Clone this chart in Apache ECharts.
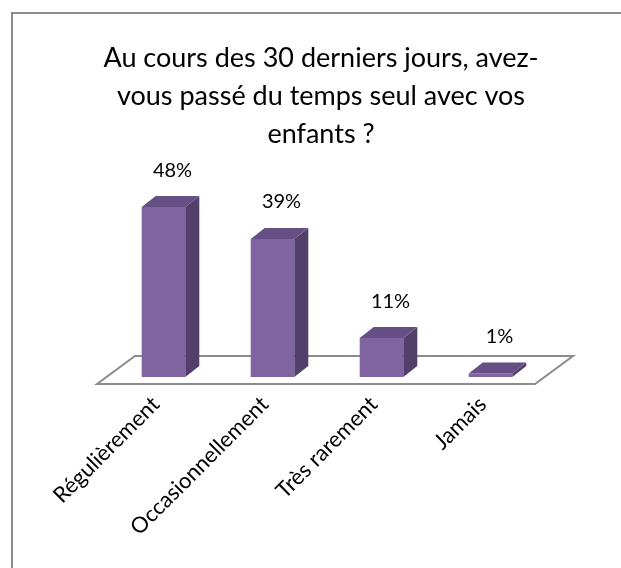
<!DOCTYPE html>
<html>
<head>
<meta charset="utf-8">
<script src="https://cdn.jsdelivr.net/npm/echarts@6/dist/echarts.min.js"></script>
<style>
  html, body { margin: 0; padding: 0; background: #fff; }
  #chart { width: 621px; height: 568px; }
</style>
</head>
<body>
<div id="chart"></div>
<script>
'use strict';

const categories = ['Régulièrement', 'Occasionnellement', 'Très rarement', 'Jamais'];
const values = [48, 39, 11, 1];
const valueLabels = ['48%', '39%', '11%', '1%'];

(function () {
    const container = document.getElementById('chart');
    const fontFamily = 'Lato, "Open Sans", sans-serif';
    // depth of the fake 3D bars
    const dx = 14;
    const dy = 11;

    const options = {
        animation: false,
        textStyle: { fontFamily },
        title: {
            text: 'Au cours des 30 derniers jours, avez-\nvous passé du temps seul avec vos\nenfants ?',
            left: 316,
            top: 34,
            textAlign: 'center',
            textStyle: {
                fontFamily,
                fontSize: 27,
                fontWeight: 'normal',
                color: '#000',
                lineHeight: 38
            }
        },
        graphic: [
            {
                type: 'rect',
                shape: { x: 12, y: 13, width: 700, height: 700 },
                style: { fill: 'none', stroke: '#8c8c8c', lineWidth: 2 },
                silent: true
            }
        ],
        grid: {
            left: 109,
            right: 76,
            top: 200,
            bottom: 191
        },
        xAxis: {
            type: 'category',
            data: categories,
            axisLine: { show: false },
            axisTick: { show: false },
            axisLabel: {
                interval: 0,
                rotate: 45,
                margin: 16,
                padding: [0, 11, 0, 0],
                fontSize: 22,
                color: '#000',
                fontFamily
            }
        },
        yAxis: {
            type: 'value',
            min: 0,
            max: 50,
            show: false,
            splitLine: { show: false }
        },
        series: [
            {
                // floor of the 3D plot
                type: 'custom',
                z: 1,
                data: [[0, 0]],
                renderItem: (params) => {
                    const cs = params.coordSys;
                    const fx = cs.x - 12;
                    const fy = cs.y + cs.height + 7;
                    const w = cs.width + 2;
                    return {
                        type: 'polygon',
                        shape: {
                            points: [
                                [fx, fy], [fx + w, fy],
                                [fx + w + 38, fy - 28], [fx + 38, fy - 28]
                            ]
                        },
                        style: { fill: '#fff', stroke: '#8c8c8c', lineWidth: 2 }
                    };
                }
            },
            {
                type: 'custom',
                z: 2,
                data: values.map((v, i) => [i, v]),
                renderItem: (params, api) => {
                    const i = api.value(0);
                    const v = api.value(1);
                    const base = api.coord([i, 0]);
                    const top = api.coord([i, v]);
                    const bw = api.size([1, 0])[0] * 0.4;
                    const x0 = base[0] - bw / 2;
                    const x1 = base[0] + bw / 2;
                    const yt = top[1];
                    const yb = base[1];
                    return {
                        type: 'group',
                        children: [
                            {
                                type: 'polygon',
                                shape: { points: [[x0, yt], [x1, yt], [x1, yb], [x0, yb]] },
                                style: { fill: '#8064a2' }
                            },
                            {
                                type: 'polygon',
                                shape: { points: [[x1, yt], [x1 + dx, yt - dy], [x1 + dx, yb - dy], [x1, yb]] },
                                style: { fill: '#52406a' }
                            },
                            {
                                type: 'polygon',
                                shape: { points: [[x0, yt], [x0 + dx, yt - dy], [x1 + dx, yt - dy], [x1, yt]] },
                                style: { fill: '#654f84' }
                            },
                            {
                                type: 'text',
                                style: {
                                    text: valueLabels[params.dataIndex],
                                    x: base[0] + dx / 2 + 2,
                                    y: yt - dy - 16,
                                    textAlign: 'center',
                                    textVerticalAlign: 'bottom',
                                    fontSize: 20,
                                    fontFamily,
                                    fill: '#000'
                                }
                            }
                        ]
                    };
                }
            }
        ]
    };

    const chart = echarts.init(container);
    chart.setOption(options);
    window.addEventListener('resize', () => {
        chart.resize();
    });
})();
</script>
</body>
</html>
